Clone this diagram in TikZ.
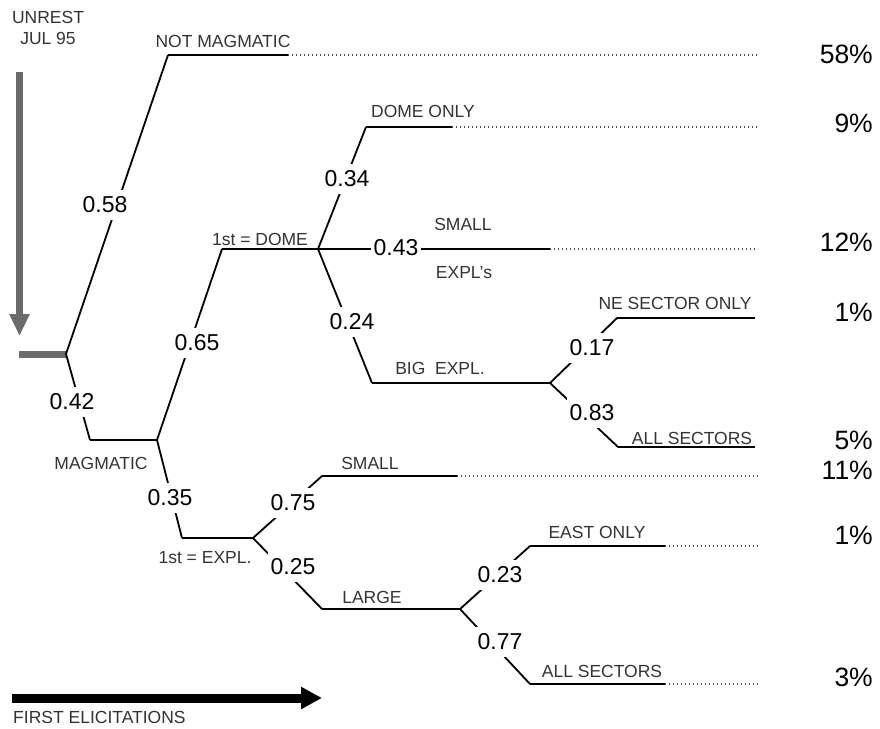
\documentclass[tikz,border=0pt]{standalone}
\usepackage{fontspec}
\setmainfont{Liberation Sans}
\usetikzlibrary{arrows.meta}
\definecolor{arrowgray}{HTML}{6B6B6B}
\definecolor{labelgray}{HTML}{333333}
\begin{document}
\begin{tikzpicture}[x=1pt,y=-1pt,
  branch/.style={line width=1.8pt, black},
  leaf/.style={line width=2.2pt, black},
  dots/.style={line width=1.4pt, black!70, dash pattern=on 1.2pt off 2.8pt},
  prob/.style={fill=white, inner xsep=3pt, inner ysep=7pt, font=\fontsize{23}{25}\selectfont},
  lbl/.style={inner sep=0pt, text=labelgray, font=\fontsize{17.5}{20}\selectfont},
  pct/.style={anchor=east, inner sep=0pt, font=\fontsize{26.5}{29}\selectfont}]
\useasboundingbox (0,0) rectangle (880,728);

% ---- coordinates of the tree ----
\coordinate (root) at (66,354);
\coordinate (nm) at (168,55);   \coordinate (nmE) at (288,55);   \coordinate (nmD) at (758,55);
\coordinate (mag) at (90,440);  \coordinate (magN) at (157,440);
\coordinate (dome) at (222,249); \coordinate (domeN) at (318,249);
\coordinate (donly) at (366,127); \coordinate (donlyE) at (452,127); \coordinate (donlyD) at (758,127);
\coordinate (smallE) at (550,249); \coordinate (smallD) at (758,249);
\coordinate (big) at (372,383); \coordinate (bigN) at (550,383);
\coordinate (ne) at (617,318); \coordinate (neE) at (755,318);
\coordinate (allA) at (618,447); \coordinate (allAE) at (755,447);
\coordinate (expl) at (182,538); \coordinate (explN) at (253,538);
\coordinate (sm) at (322,476); \coordinate (smE) at (457,476); \coordinate (smD) at (758,476);
\coordinate (large) at (322,609); \coordinate (largeN) at (460,609);
\coordinate (east) at (530,546); \coordinate (eastE) at (665,546); \coordinate (eastD) at (758,546);
\coordinate (allB) at (530,684); \coordinate (allBE) at (665,684); \coordinate (allBD) at (758,684);

% ---- arrows ----
\coordinate (garTop) at (19.5,72); \coordinate (garTip) at (19.5,336);
\draw[arrowgray, line width=7pt, -{Triangle[length=22pt,width=19pt]}] (garTop) -- (garTip);
\coordinate (barL) at (19,354);
\draw[arrowgray, line width=7pt] (barL) -- (root);
\coordinate (barrL) at (12,698); \coordinate (barrTip) at (322,698);
\draw[black, line width=9pt, -{Triangle[length=21pt,width=21pt]}] (barrL) -- (barrTip);

% ---- branches ----
\draw[branch] (root) -- (nm);
\draw[leaf] (nm) -- (nmE);
\draw[dots] (nmE) -- (nmD);
\draw[branch] (root) -- (mag);
\draw[leaf] (mag) -- (magN);
\draw[branch] (magN) -- (dome);
\draw[leaf] (dome) -- (domeN);
\draw[branch] (domeN) -- (donly);
\draw[leaf] (donly) -- (donlyE);
\draw[dots] (donlyE) -- (donlyD);
\draw[leaf] (domeN) -- (smallE);
\draw[dots] (smallE) -- (smallD);
\draw[branch] (domeN) -- (big);
\draw[leaf] (big) -- (bigN);
\draw[branch] (bigN) -- (ne);
\draw[leaf] (ne) -- (neE);
\draw[branch] (bigN) -- (allA);
\draw[leaf] (allA) -- (allAE);
\draw[branch] (magN) -- (expl);
\draw[leaf] (expl) -- (explN);
\draw[branch] (explN) -- (sm);
\draw[leaf] (sm) -- (smE);
\draw[dots] (smE) -- (smD);
\draw[branch] (explN) -- (large);
\draw[leaf] (large) -- (largeN);
\draw[branch] (largeN) -- (east);
\draw[leaf] (east) -- (eastE);
\draw[dots] (eastE) -- (eastD);
\draw[branch] (largeN) -- (allB);
\draw[leaf] (allB) -- (allBE);
\draw[dots] (allBE) -- (allBD);

% ---- probabilities ----
\node[prob] (p58) at (105,205) {0.58};
\node[prob] (p42) at (72,402) {0.42};
\node[prob] (p65) at (197,343) {0.65};
\node[prob] (p35) at (170,498) {0.35};
\node[prob] (p34) at (347,179) {0.34};
\node[prob] (p43) at (396,248) {0.43};
\node[prob] (p24) at (352,322) {0.24};
\node[prob] (p17) at (592,348) {0.17};
\node[prob] (p83) at (592,413) {0.83};
\node[prob] (p75) at (293,503) {0.75};
\node[prob] (p25) at (293,567) {0.25};
\node[prob] (p23) at (500,575) {0.23};
\node[prob] (p77) at (500,642) {0.77};

% ---- labels ----
\node[lbl] (unrest) at (48,17) {UNREST};
\node[lbl] (jul) at (48,38) {JUL 95};
\node[lbl] (tnm) at (223,41) {NOT MAGMATIC};
\node[lbl] (tdo) at (423,111) {DOME ONLY};
\node[lbl] (tfd) at (260,239) {1st = DOME};
\node[lbl] (tsm1) at (463,224) {SMALL};
\node[lbl] (tex1) at (464,273) {EXPL's};
\node[lbl] (tbig) at (440,368) {BIG\ \ EXPL.};
\node[lbl] (tne) at (675,303) {NE SECTOR ONLY};
\node[lbl] (tall1) at (692,438) {ALL SECTORS};
\node[lbl] (tmag) at (101,463) {MAGMATIC};
\node[lbl] (tfe) at (205,558) {1st = EXPL.};
\node[lbl] (tsm2) at (370,463) {SMALL};
\node[lbl] (tlg) at (372,597) {LARGE};
\node[lbl] (teast) at (597,532) {EAST ONLY};
\node[lbl] (tall2) at (602,671) {ALL SECTORS};
\node[lbl, anchor=west] (tfirst) at (13,717) {FIRST ELICITATIONS};

% ---- outcome percentages ----
\node[pct] (r58) at (873,54) {58\%};
\node[pct] (r9) at (873,123) {9\%};
\node[pct] (r12) at (873,242) {12\%};
\node[pct] (r1a) at (873,312) {1\%};
\node[pct] (r5) at (873,440) {5\%};
\node[pct] (r11) at (873,470) {11\%};
\node[pct] (r1b) at (873,535) {1\%};
\node[pct] (r3) at (873,677) {3\%};
\end{tikzpicture}
\end{document}
